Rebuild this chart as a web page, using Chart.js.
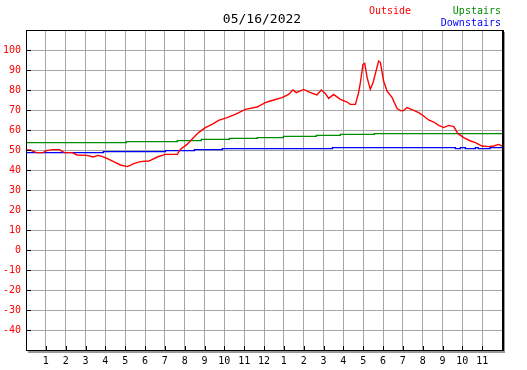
<!DOCTYPE html>
<html>
<head>
<meta charset="utf-8">
<script src="https://cdn.jsdelivr.net/npm/chart.js@4.4.1/dist/chart.umd.min.js"></script>
<style>
  html, body { margin: 0; padding: 0; background: #fff; }
</style>
</head>
<body>
<canvas id="tempChart" width="527" height="370"></canvas>
<script>
"use strict";

// ~ Chart data
const chartDate = "05/16/2022";

const outsideHours = [
  0, 0.22, 0.52, 0.87, 1.02, 1.33, 1.68, 1.93, 2.33, 2.57, 3.08, 3.38, 3.63, 3.83,
  4.08, 4.42, 4.76, 5.12, 5.43, 5.76, 6.18, 6.27, 6.62, 7.02, 7.63, 7.78, 8.12,
  8.45, 8.7, 9.04, 9.38, 9.71, 10.14, 10.55, 11.06, 11.65, 12.07, 12.32, 12.49,
  12.91, 13.24, 13.46, 13.63, 14.0, 14.34, 14.67, 14.89, 15.09, 15.26, 15.51,
  15.85, 16.19, 16.35, 16.61, 16.77, 16.86, 16.99, 17.08, 17.2, 17.36, 17.5,
  17.67, 17.78, 17.87, 18.03, 18.2, 18.46, 18.71, 18.88, 19.04, 19.21, 19.55,
  19.8, 20.05, 20.3, 20.56, 20.81, 21.06, 21.31, 21.57, 21.77, 22.07, 22.41,
  22.66, 22.99, 23.32, 23.58, 23.83, 24.0
];
const outsideTemps = [
  50.0, 50.0, 48.7, 48.7, 49.7, 50.2, 50.2, 48.7, 48.7, 47.5, 47.3, 46.5, 47.3, 46.8,
  45.8, 44.2, 42.5, 41.7, 43.2, 44.2, 44.5, 44.8, 46.5, 47.8, 47.8, 50.3, 52.8,
  56.2, 58.7, 61.2, 62.8, 64.8, 66.2, 67.8, 70.3, 71.5, 73.7, 74.5, 75.0,
  76.2, 77.8, 80.0, 78.7, 80.3, 78.7, 77.5, 80.0, 78.3, 75.8, 77.8,
  75.3, 74.0, 72.8, 72.8, 78.7, 83.7, 92.8, 93.3, 86.2, 80.3, 83.7,
  90.3, 94.5, 93.7, 84.5, 79.5, 76.2, 70.7, 69.7, 69.7, 71.2, 69.8,
  68.7, 67.0, 65.0, 64.0, 62.3, 61.2, 62.3, 61.7, 58.3, 56.2, 54.5,
  53.7, 52.0, 51.7, 52.0, 52.8, 52.0
];

const upstairsHours = [0, 5.06, 7.63, 8.84, 10.25, 11.66, 12.98, 14.64, 15.85, 17.56, 19.18, 24];
const upstairsTemps = [54.3, 53.7, 54.2, 54.7, 55.3, 55.8, 56.2, 56.8, 57.3, 57.8, 58.2, 58.2];

const downstairsHours = [0, 3.9, 7.03, 8.49, 9.9, 15.45, 21.65, 21.9, 22.15, 22.66, 22.8, 23.4, 23.5, 24];
const downstairsTemps = [49.3, 48.7, 49.2, 49.7, 50.2, 50.7, 51.2, 50.7, 51.2, 50.7, 51.2, 50.7, 51.2, 51.2];

const monoFont = "'DejaVu Sans Mono', 'Liberation Mono', monospace";

function toPoints(hours, temps) {
  return hours.map((h, i) => ({ x: h, y: temps[i] }));
}

// * Frame, tick marks, title and legend text
const framePlugin = {
  id: "frame",
  afterDraw(chart) {
    const ctx = chart.ctx;
    const { left, right, top, bottom } = chart.chartArea;
    const xScale = chart.scales.x;
    const yScale = chart.scales.y;
    ctx.save();

    // small black ticks inside the frame
    ctx.strokeStyle = "#000";
    ctx.lineWidth = 1;
    ctx.beginPath();
    yScale.ticks.forEach((t) => {
      const y = Math.round(yScale.getPixelForValue(t.value)) + 0.5;
      ctx.moveTo(left, y);
      ctx.lineTo(left + 5, y);
    });
    xScale.ticks.forEach((t) => {
      const x = Math.round(xScale.getPixelForValue(t.value)) + 0.5;
      ctx.moveTo(x, bottom);
      ctx.lineTo(x, bottom - 4);
    });
    ctx.stroke();

    // shadow
    ctx.fillStyle = "#999";
    ctx.fillRect(right + 1, top + 2, 2, bottom - top + 1);
    ctx.fillRect(left + 2, bottom + 1, right - left + 1, 2);

    // frame
    ctx.strokeRect(left + 0.5, top + 0.5, right - left, bottom - top);
    ctx.fillStyle = "#000";
    ctx.fillRect(right, top, 2, bottom - top + 1);

    // title
    ctx.font = "13px " + monoFont;
    ctx.textAlign = "center";
    ctx.textBaseline = "middle";
    ctx.fillStyle = "#000";
    ctx.fillText(chartDate, 262, 20);

    // legend
    const ds = chart.data.datasets;
    ctx.font = "10px " + monoFont;
    ctx.textAlign = "left";
    ctx.fillStyle = ds[0].borderColor;
    ctx.fillText(ds[0].label, 369, 11);
    ctx.textAlign = "right";
    ctx.fillStyle = ds[1].borderColor;
    ctx.fillText(ds[1].label, 501, 11);
    ctx.fillStyle = ds[2].borderColor;
    ctx.fillText(ds[2].label, 501, 23);
    ctx.restore();
  },
};

const ctx = document.getElementById("tempChart").getContext("2d");
new Chart(ctx, {
  type: "line",
  data: {
    datasets: [
      {
        label: "Outside",
        data: toPoints(outsideHours, outsideTemps),
        borderColor: "#ff0000",
        borderWidth: 1.4,
        pointRadius: 0,
        tension: 0,
      },
      {
        label: "Upstairs",
        data: toPoints(upstairsHours, upstairsTemps),
        borderColor: "#008c00",
        borderWidth: 1.4,
        pointRadius: 0,
        stepped: "after",
      },
      {
        label: "Downstairs",
        data: toPoints(downstairsHours, downstairsTemps),
        borderColor: "#0000ff",
        borderWidth: 1.4,
        pointRadius: 0,
        stepped: "after",
      },
    ],
  },
  options: {
    responsive: false,
    animation: false,
    devicePixelRatio: 1,
    layout: { padding: { top: 30, right: 25, left: 0, bottom: 0 } },
    plugins: {
      legend: { display: false },
      title: { display: false },
      tooltip: { enabled: false },
    },
    scales: {
      x: {
        type: "linear",
        min: 0,
        max: 24,
        afterFit: (s) => { s.height = 20; },
        grid: { color: "#a6a6a6", drawTicks: false },
        border: { display: false },
        ticks: {
          stepSize: 1,
          padding: 5,
          color: "#000",
          maxRotation: 0,
          autoSkip: false,
          font: { family: monoFont, size: 10 },
          callback: (v) => (v <= 0 || v >= 24 ? "" : String(v % 12 || 12)),
        },
      },
      y: {
        min: -50,
        max: 110,
        afterFit: (s) => { s.width = 26; },
        grid: { color: "#a6a6a6", drawTicks: false },
        border: { display: false },
        ticks: {
          stepSize: 10,
          padding: 5,
          color: "#ff0000",
          font: { family: monoFont, size: 10 },
          callback: (v) => (v <= -50 || v >= 110 ? "" : String(v)),
        },
      },
    },
  },
  plugins: [framePlugin],
});
</script>
</body>
</html>
